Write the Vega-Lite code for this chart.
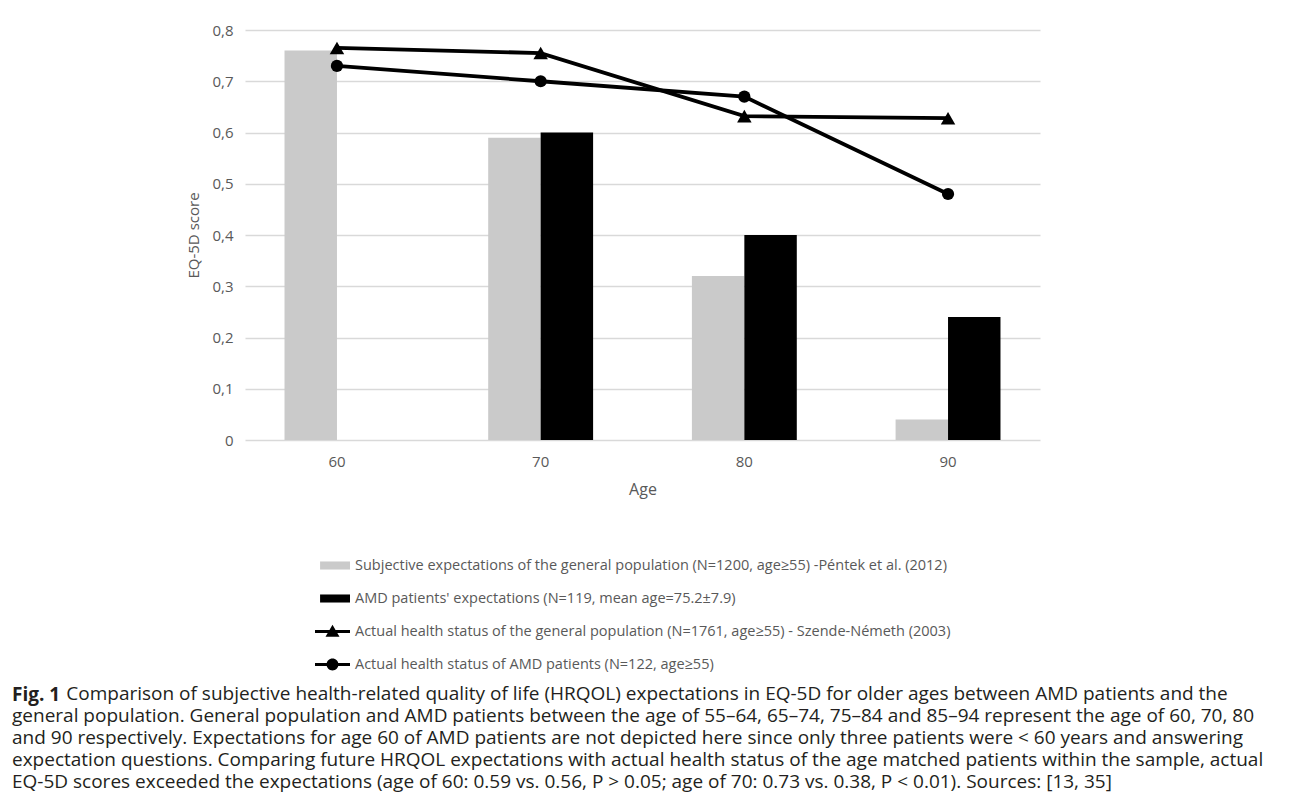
{
  "$schema": "https://vega.github.io/schema/vega-lite/v6.json",
  "width": 795,
  "height": 410,
  "autosize": {"type": "none"},
  "padding": {"left": 245, "top": 30, "right": 252, "bottom": 353},
  "background": "white",
  "config": {
    "view": {"stroke": null},
    "font": "Open Sans",
    "axis": {"labelFont": "Open Sans", "titleFont": "Open Sans", "labelColor": "#595959", "titleColor": "#595959", "titleFontWeight": "normal"}
  },
  "title": {
    "text": "Fig. 1",
    "subtitle": [
      "\u200b\u00a0\u00a0\u00a0\u00a0\u00a0\u00a0\u00a0\u00a0\u00a0\u00a0\u00a0Comparison of subjective health-related quality of life (HRQOL) expectations in EQ-5D for older ages between AMD patients and the",
      "general population. General population and AMD patients between the age of 55–64, 65–74, 75–84 and 85–94 represent the age of 60, 70, 80",
      "and 90 respectively. Expectations for age 60 of AMD patients are not depicted here since only three patients were < 60 years and answering",
      "expectation questions. Comparing future HRQOL expectations with actual health status of the age matched patients within the sample, actual",
      "EQ-5D scores exceeded the expectations (age of 60: 0.59 vs. 0.56, P > 0.05; age of 70: 0.73 vs. 0.38, P < 0.01). Sources: [13, 35]"
    ],
    "orient": "bottom",
    "anchor": "start",
    "frame": "group",
    "dx": -233,
    "offset": 15,
    "font": "Open Sans",
    "fontSize": 19,
    "fontWeight": "bold",
    "color": "#231f20",
    "subtitleFont": "Open Sans",
    "subtitleFontSize": 19,
    "subtitleColor": "#231f20",
    "subtitleLineHeight": 22,
    "subtitlePadding": -20
  },
  "data": {
    "values": [
      {"age": "60", "series": "Subjective expectations of the general population (N=1200, age≥55) -Péntek et al. (2012)", "value": 0.76},
      {"age": "60", "series": "AMD patients' expectations (N=119, mean age=75.2±7.9)", "value": null},
      {"age": "60", "series": "Actual health status of the general population (N=1761, age≥55) - Szende-Németh (2003)", "value": 0.765},
      {"age": "60", "series": "Actual health status of AMD patients (N=122, age≥55)", "value": 0.73},
      {"age": "70", "series": "Subjective expectations of the general population (N=1200, age≥55) -Péntek et al. (2012)", "value": 0.59},
      {"age": "70", "series": "AMD patients' expectations (N=119, mean age=75.2±7.9)", "value": 0.60},
      {"age": "70", "series": "Actual health status of the general population (N=1761, age≥55) - Szende-Németh (2003)", "value": 0.755},
      {"age": "70", "series": "Actual health status of AMD patients (N=122, age≥55)", "value": 0.70},
      {"age": "80", "series": "Subjective expectations of the general population (N=1200, age≥55) -Péntek et al. (2012)", "value": 0.32},
      {"age": "80", "series": "AMD patients' expectations (N=119, mean age=75.2±7.9)", "value": 0.40},
      {"age": "80", "series": "Actual health status of the general population (N=1761, age≥55) - Szende-Németh (2003)", "value": 0.632},
      {"age": "80", "series": "Actual health status of AMD patients (N=122, age≥55)", "value": 0.67},
      {"age": "90", "series": "Subjective expectations of the general population (N=1200, age≥55) -Péntek et al. (2012)", "value": 0.04},
      {"age": "90", "series": "AMD patients' expectations (N=119, mean age=75.2±7.9)", "value": 0.24},
      {"age": "90", "series": "Actual health status of the general population (N=1761, age≥55) - Szende-Németh (2003)", "value": 0.628},
      {"age": "90", "series": "Actual health status of AMD patients (N=122, age≥55)", "value": 0.48}
    ]
  },
  "encoding": {
    "x": {
      "field": "age", "type": "ordinal",
      "scale": {"type": "band", "paddingInner": 0.485, "paddingOuter": 0.194},
      "axis": {"title": "Age", "titleFontSize": 16, "titlePadding": 12, "labelFontSize": 15, "labelPadding": 14, "labelAngle": 0, "domain": false, "ticks": false, "grid": false}
    },
    "y": {
      "field": "value", "type": "quantitative",
      "scale": {"domain": [0, 0.8], "nice": false},
      "axis": {"title": "EQ-5D score", "titleFontSize": 15, "titlePadding": 10, "labelFontSize": 15, "labelPadding": 12, "values": [0, 0.1, 0.2, 0.3, 0.4, 0.5, 0.6, 0.7, 0.8], "labelExpr": "datum.value == 0 ? '0' : replace(format(datum.value, '.1f'), '.', ',')", "domain": false, "ticks": false, "gridColor": "#d9d9d9", "gridWidth": 1.5}
    }
  },
  "layer": [
    {
      "transform": [{"filter": {"field": "series", "oneOf": ["Subjective expectations of the general population (N=1200, age≥55) -Péntek et al. (2012)", "AMD patients' expectations (N=119, mean age=75.2±7.9)"]}}],
      "mark": {"type": "bar"},
      "encoding": {
        "xOffset": {"field": "series", "type": "nominal", "scale": {"domain": ["Subjective expectations of the general population (N=1200, age≥55) -Péntek et al. (2012)", "AMD patients' expectations (N=119, mean age=75.2±7.9)"], "paddingInner": 0, "paddingOuter": 0}},
        "color": {"field": "series", "type": "nominal"}
      }
    },
    {
      "transform": [{"filter": {"field": "series", "oneOf": ["Actual health status of the general population (N=1761, age≥55) - Szende-Németh (2003)", "Actual health status of AMD patients (N=122, age≥55)"]}}],
      "mark": {"type": "line", "color": "black", "strokeWidth": 3.8},
      "encoding": {"detail": {"field": "series", "type": "nominal"}}
    },
    {
      "transform": [{"filter": {"field": "series", "equal": "Actual health status of the general population (N=1761, age≥55) - Szende-Németh (2003)"}}],
      "mark": {"type": "point", "shape": "triangle-up", "filled": true, "color": "black", "opacity": 1, "size": 210}
    },
    {
      "transform": [{"filter": {"field": "series", "equal": "Actual health status of AMD patients (N=122, age≥55)"}}],
      "mark": {"type": "point", "shape": "circle", "filled": true, "color": "black", "opacity": 1, "size": 150}
    },
    {
      "transform": [{"filter": {"field": "age", "equal": "60"}}],
      "mark": {"type": "point", "filled": true, "opacity": 0},
      "encoding": {
        "x": {"value": 0},
        "y": {"value": 0},
        "color": {
          "field": "series", "type": "nominal",
          "scale": {
            "domain": ["Subjective expectations of the general population (N=1200, age≥55) -Péntek et al. (2012)", "AMD patients' expectations (N=119, mean age=75.2±7.9)", "Actual health status of the general population (N=1761, age≥55) - Szende-Németh (2003)", "Actual health status of AMD patients (N=122, age≥55)"],
            "range": ["#cacaca", "#000000", "#000000", "#000000"]
          },
          "legend": {
            "title": null,
            "orient": "none",
            "legendX": 70,
            "legendY": 518,
            "direction": "vertical",
            "labelFont": "Open Sans",
            "labelFontSize": 14.5,
            "labelColor": "#595959",
            "labelLimit": 1000,
            "labelOffset": 5,
            "symbolSize": 1225,
            "symbolStrokeWidth": 0,
            "symbolOpacity": 1,
            "rowPadding": 9,
            "encode": {"symbols": {"update": {"opacity": {"value": 1}, "fillOpacity": {"value": 1}}}}
          }
        },
        "shape": {
          "field": "series", "type": "nominal",
          "scale": {
            "domain": ["Subjective expectations of the general population (N=1200, age≥55) -Péntek et al. (2012)", "AMD patients' expectations (N=119, mean age=75.2±7.9)", "Actual health status of the general population (N=1761, age≥55) - Szende-Németh (2003)", "Actual health status of AMD patients (N=122, age≥55)"],
            "range": [
              "M-0.71,-0.23H1V0.23H-0.71Z",
              "M-0.71,-0.23H1V0.23H-0.71Z",
              "M-1,-0.085H1V0.085H-1Z M-0.4,0.3L0,-0.38L0.4,0.3Z",
              "M-1,-0.085H1V0.085H-1Z M-0.34,0A0.34,0.34 0 1,1 0.34,0A0.34,0.34 0 1,1 -0.34,0Z"
            ]
          }
        }
      }
    }
  ]
}
